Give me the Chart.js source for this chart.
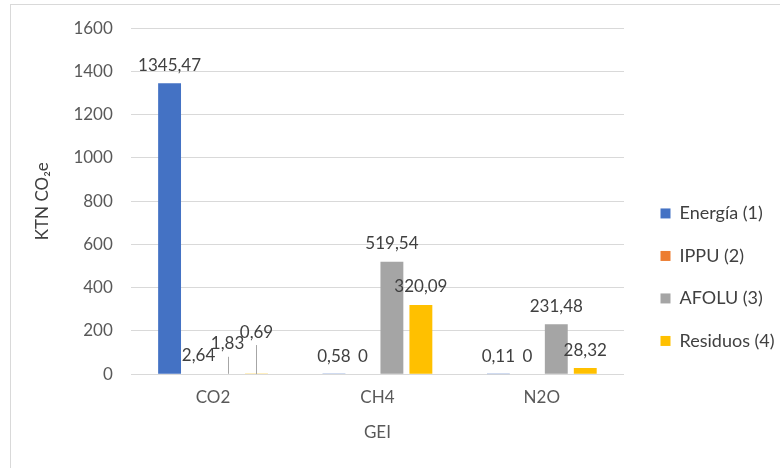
<!DOCTYPE html>
<html>
<head>
<meta charset="utf-8">
<script src="https://cdn.jsdelivr.net/npm/chart.js@4.4.1/dist/chart.umd.min.js"></script>
<style>
  body { margin: 0; background: #fff; }
  #frame { position: absolute; left: 10px; top: 4px; width: 800px; height: 500px; border: 1px solid #d9d9d9; }
  #myChart { position: absolute; left: 0; top: 0; }
</style>
</head>
<body>
<div id="frame"></div>
<canvas id="myChart" width="780" height="468"></canvas>
<script>
const categories = ['CO2', 'CH4', 'N2O'];
const energia = [1345.47, 0.58, 0.11];
const ippu = [2.64, 0, 0];
const afolu = [1.83, 519.54, 231.48];
const residuos = [0.69, 320.09, 28.32];
const yTicks = [0, 200, 400, 600, 800, 1000, 1200, 1400, 1600];

const FONT = 'Lato';

// etiquetas de CO2 que van desplazadas hacia arriba con línea guía
const liftLabels = { '2-0': 12, '3-0': 24 };

function formatNum(v) {
    return v === 0 ? '0' : v.toFixed(2).replace('.', ',');
}

const dataLabels = {
    id: 'dataLabels',
    afterDatasetsDraw(chart) {
        const ctx = chart.ctx;
        ctx.save();
        ctx.font = '17px ' + FONT;
        ctx.textAlign = 'center';
        ctx.textBaseline = 'middle';
        chart.data.datasets.forEach((ds, i) => {
            chart.getDatasetMeta(i).data.forEach((bar, j) => {
                const lift = liftLabels[i + '-' + j] || 0;
                const y = bar.y - 18 - lift;
                if (lift) {
                    ctx.strokeStyle = '#a6a6a6';
                    ctx.lineWidth = 1;
                    ctx.beginPath();
                    ctx.moveTo(Math.round(bar.x) + 0.5, y + 13);
                    ctx.lineTo(Math.round(bar.x) + 0.5, bar.y);
                    ctx.stroke();
                }
                ctx.fillStyle = '#404040';
                ctx.fillText(formatNum(ds.data[j]), bar.x, y);
            });
        });
        ctx.restore();
    }
};

const ctx = document.getElementById('myChart').getContext('2d');
const myChart = new Chart(ctx, {
    type: 'bar',
    data: {
        labels: categories,
        datasets: [
            { label: 'Energía (1)', data: energia, backgroundColor: '#4472C4' },
            { label: 'IPPU (2)', data: ippu, backgroundColor: '#ED7D31' },
            { label: 'AFOLU (3)', data: afolu, backgroundColor: '#A5A5A5' },
            { label: 'Residuos (4)', data: residuos, backgroundColor: '#FFC000' }
        ]
    },
    options: {
        responsive: false,
        animation: false,
        barPercentage: 0.79,
        categoryPercentage: 0.705,
        layout: { padding: { left: 28, right: 0, top: 17, bottom: 25 } },
        plugins: {
            tooltip: { enabled: false },
            legend: {
                position: 'right',
                maxWidth: 144,
                title: { display: true, text: ' ', font: { size: 2 }, padding: { top: 92, bottom: 0 } },
                labels: {
                    boxWidth: 10,
                    boxHeight: 10,
                    padding: 24.5,
                    color: '#404040',
                    font: { family: FONT, size: 18 }
                }
            }
        },
        scales: {
            x: {
                grid: { display: false, drawTicks: false },
                border: { display: false },
                ticks: { color: '#595959', font: { family: FONT, size: 17 }, padding: 13 },
                title: { display: true, text: 'GEI', color: '#595959', font: { family: FONT, size: 17 }, padding: { top: 2, bottom: 0 } }
            },
            y: {
                min: yTicks[0],
                max: yTicks[yTicks.length - 1],
                grid: { color: '#d9d9d9', drawTicks: false },
                border: { display: false },
                ticks: {
                    stepSize: yTicks[1] - yTicks[0],
                    color: '#595959',
                    font: { family: FONT, size: 17 },
                    padding: 18,
                    callback: v => String(v)
                },
                title: { display: true, text: 'KTN CO₂e', color: '#404040', font: { family: FONT, size: 17 }, padding: { top: 4, bottom: 3 } }
            },
            // eje vacío para separar el área del gráfico de la leyenda
            yGap: {
                position: 'right',
                grid: { display: false, drawOnChartArea: false },
                border: { display: false },
                ticks: { display: false },
                afterFit(scale) { scale.width = 12; }
            }
        }
    },
    plugins: [dataLabels]
});
</script>
</body>
</html>
